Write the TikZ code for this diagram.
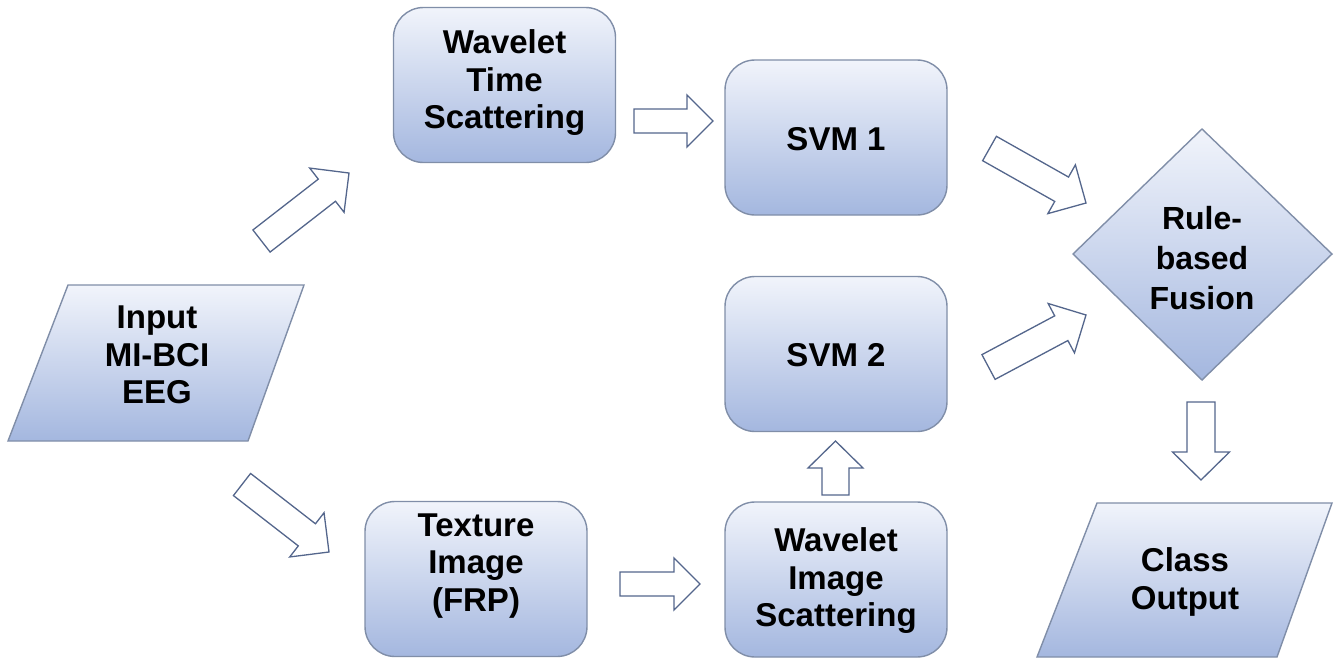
\documentclass[tikz,border=0pt]{standalone}
\usepackage{fontspec}
\setmainfont{Liberation Sans}
\usetikzlibrary{calc}

\definecolor{boxtop}{RGB}{241,244,251}
\definecolor{boxbot}{RGB}{164,183,223}
\definecolor{boxline}{RGB}{128,142,168}
\definecolor{arrline}{RGB}{84,102,140}

\tikzset{
  gradfill/.style={top color=boxtop, bottom color=boxbot, draw=boxline, line width=1.4pt},
  procbox/.style={gradfill, rounded corners=30pt, minimum width=222pt, minimum height=155pt, inner sep=0pt},
  lbl/.style={font=\bfseries\fontsize{33}{37.5}\selectfont, align=center, text=black, inner sep=0pt},
  blockarr/.style={draw=arrline, fill=white, line width=1.3pt, line join=miter},
}

% hollow block arrow from #1 to #2: shaft half-width #3, head half-width #4, head length #5
\newcommand\blockarrow[5]{%
  \coordinate (ba-h) at ($(#2)!#5!(#1)$);
  \draw[blockarr] ($(#1)!#3!90:(#2)$) -- ($(ba-h)!#3!90:(#2)$) -- ($(ba-h)!#4!90:(#2)$)
     -- (#2) -- ($(ba-h)!#4!-90:(#2)$) -- ($(ba-h)!#3!-90:(#2)$) -- ($(#1)!#3!-90:(#2)$) -- cycle;}

\begin{document}
\begin{tikzpicture}[x=1pt, y=-1pt]
  \useasboundingbox (0,0) rectangle (1336,662);

  % input / output parallelograms and fusion diamond
  \path[gradfill] (68,285) -- (304,285) -- (248,441) -- (8,441) -- cycle;
  \node[lbl] (in) at (157,355) {Input\\MI-BCI\\EEG};

  \path[gradfill] (1097,503) -- (1332,503) -- (1277,657) -- (1037,657) -- cycle;
  \node[lbl] (out) at (1185,582) {Class\\Output};

  \path[gradfill] (1202,129) -- (1332,254) -- (1202,380) -- (1073,254) -- cycle;
  \node[lbl, font=\bfseries\fontsize{32}{40}\selectfont] (fus) at (1202,258) {Rule-\\based\\Fusion};

  % processing blocks
  \node[procbox] (wts) at (504.5,85) {};
  \node[lbl] (wts-t) at (504.5,83) {Wavelet\\Time\\Scattering};

  \node[procbox] (svm1) at (836,137.5) {};
  \node[lbl] (svm1-t) at (836,139) {SVM 1};

  \node[procbox] (svm2) at (836,354) {};
  \node[lbl] (svm2-t) at (836,355) {SVM 2};

  \node[procbox] (tex) at (476,579) {};
  \node[lbl] (tex-t) at (476,566) {Texture\\Image\\(FRP)};

  \node[procbox] (wis) at (836,579.5) {};
  \node[lbl] (wis-t) at (836,581) {Wavelet\\Image\\Scattering};

  % arrow end points
  \coordinate (a1s) at (261.5,241);  \coordinate (a1e) at (349,173);
  \coordinate (a2s) at (634,121);    \coordinate (a2e) at (713,121);
  \coordinate (a3s) at (242,484.5);  \coordinate (a3e) at (329,552);
  \coordinate (a4s) at (620,584);    \coordinate (a4e) at (700,584);
  \coordinate (a5s) at (835.5,495);  \coordinate (a5e) at (835.5,441);
  \coordinate (a6s) at (989.5,148.5);\coordinate (a6e) at (1086,203);
  \coordinate (a7s) at (988.5,367);  \coordinate (a7e) at (1086,315);
  \coordinate (a8s) at (1201,402);   \coordinate (a8e) at (1201,480);

  \blockarrow{a1s}{a1e}{14pt}{28pt}{28pt}
  \blockarrow{a2s}{a2e}{12pt}{26pt}{26pt}
  \blockarrow{a3s}{a3e}{14pt}{28pt}{28pt}
  \blockarrow{a4s}{a4e}{12pt}{26pt}{26pt}
  \blockarrow{a5s}{a5e}{13.5pt}{27.5pt}{27pt}
  \blockarrow{a6s}{a6e}{14pt}{28pt}{28pt}
  \blockarrow{a7s}{a7e}{14pt}{28pt}{28pt}
  \blockarrow{a8s}{a8e}{14pt}{28.5pt}{28pt}
\end{tikzpicture}
\end{document}
